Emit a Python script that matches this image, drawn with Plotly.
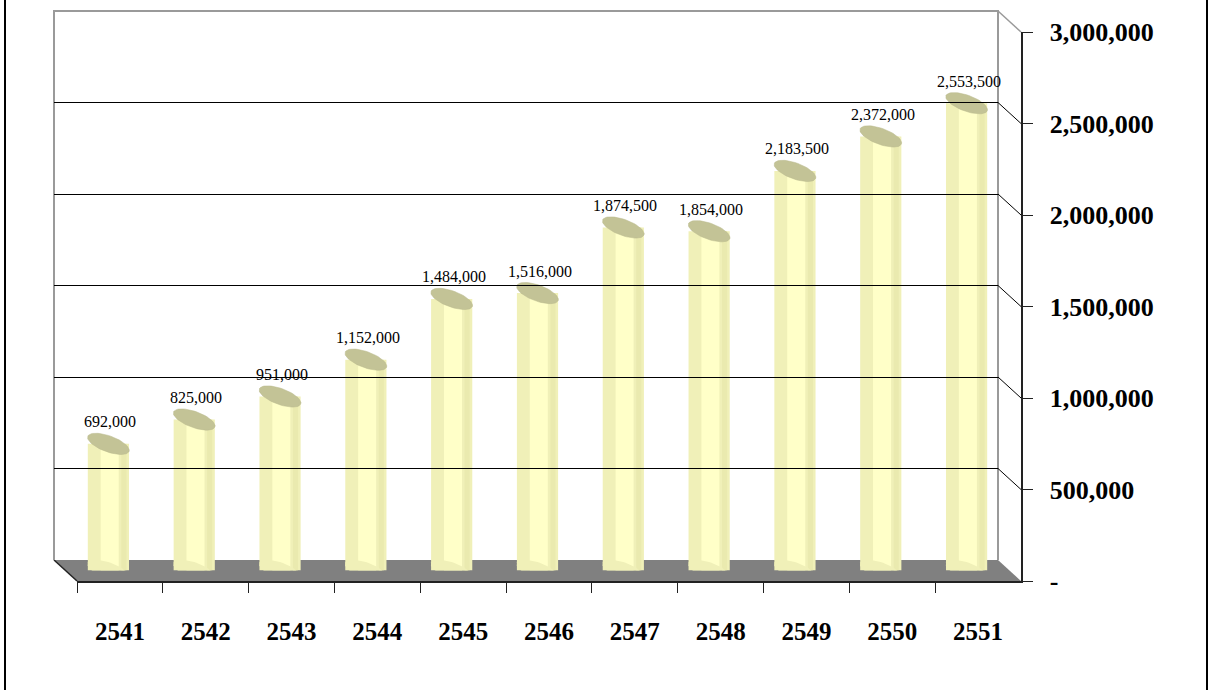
import numpy as np
import plotly.graph_objects as go

# ---- data ----
years = ["2541", "2542", "2543", "2544", "2545", "2546", "2547", "2548", "2549", "2550", "2551"]
values = [692000, 825000, 951000, 1152000, 1484000, 1516000, 1874500, 1854000, 2183500, 2372000, 2553500]
y_tickvals = [0, 500000, 1000000, 1500000, 2000000, 2500000, 3000000]
y_ticktext = ["-", "500,000", "1,000,000", "1,500,000", "2,000,000", "2,500,000", "3,000,000"]
YMAX = 3000000

W, H = 1209, 690
def px(x): return x / W
def py(y): return 1 - y / H

# layout geometry (pixels)
FX0, FX1, FYB, FYT = 77, 1021, 581, 32          # front plane
DX, DY = 23, 21                                  # depth offset
BX0, BX1, BYB, BYT = FX0 - DX, FX1 - DX, FYB - DY, FYT - DY  # back wall
MX0, MX1, MYB, MYT = FX0 - DX / 2, FX1 - DX / 2, FYB - DY / 2, FYT - DY / 2  # bar plane

n = len(years)
xs = np.arange(n)
unit_px = (FX1 - FX0) / n
val_per_px = YMAX / (FYB - FYT)

BAR_W = 0.48
EDGE = "#F0F0B8"
MID = "#FFFFC8"
RIGHT = "#EAEAAF"
TOP = "#C3C396"

def ellipse(cx, cy, a=22, b=8, theta=np.radians(20)):
    t = np.linspace(0, 2 * np.pi, 60)
    ex = a * np.cos(t) * np.cos(theta) - b * np.sin(t) * np.sin(theta)
    ey = a * np.cos(t) * np.sin(theta) + b * np.sin(t) * np.cos(theta)  # pixel, down positive
    return cx + ex / unit_px, cy - ey * val_per_px

fig = go.Figure()

# bottom caps of cylinders
for i, v in enumerate(values):
    ex, ey = ellipse(xs[i], 0)
    fig.add_trace(go.Scatter(x=ex, y=ey, mode="lines", fill="toself", fillcolor=EDGE,
                             line=dict(width=0), xaxis="x2", yaxis="y2", hoverinfo="skip", showlegend=False))

# cylinder bodies
fig.add_trace(go.Bar(x=xs, y=values, width=BAR_W, marker=dict(color=EDGE, line=dict(width=0)),
                     xaxis="x2", yaxis="y2", hoverinfo="skip", showlegend=False))
fig.add_trace(go.Bar(x=xs, y=values, width=0.21, offset=-BAR_W / 2 + 0.15,
                     marker=dict(color=MID, line=dict(width=0)),
                     xaxis="x2", yaxis="y2", hoverinfo="skip", showlegend=False))
fig.add_trace(go.Bar(x=xs, y=values, width=0.06, offset=BAR_W / 2 - 0.09,
                     marker=dict(color=RIGHT, line=dict(width=0)),
                     xaxis="x2", yaxis="y2", hoverinfo="skip", showlegend=False))

# top caps
for i, v in enumerate(values):
    ex, ey = ellipse(xs[i], v)
    fig.add_trace(go.Scatter(x=ex, y=ey, mode="lines", fill="toself", fillcolor=TOP,
                             line=dict(width=0.5, color="#B8B88C"), xaxis="x2", yaxis="y2",
                             hoverinfo="skip", showlegend=False))

# invisible trace for the front axes
fig.add_trace(go.Scatter(x=years, y=values, mode="markers", marker=dict(opacity=0),
                         xaxis="x", yaxis="y", hoverinfo="skip", showlegend=False))
# invisible trace for the back wall axes
fig.add_trace(go.Scatter(x=[0], y=[0], mode="markers", marker=dict(opacity=0),
                         xaxis="x3", yaxis="y3", hoverinfo="skip", showlegend=False))

shapes = []
# outer border: only the side edges are inside the picture
for bx in (5, 1207):
    shapes.append(dict(type="line", xref="paper", yref="paper", x0=px(bx), x1=px(bx), y0=0, y1=1,
                       line=dict(color="black", width=2), layer="below"))
# floor
floor = (f"M {px(BX0)},{py(BYB)} L {px(BX1)},{py(BYB)} L {px(FX1)},{py(FYB)} L {px(FX0)},{py(FYB)} Z")
shapes.append(dict(type="path", path=floor, xref="paper", yref="paper", fillcolor="#808080",
                   line=dict(width=0), layer="below"))
shapes.append(dict(type="line", xref="paper", yref="paper", x0=px(BX0), y0=py(BYB), x1=px(FX0), y1=py(FYB),
                   line=dict(color="#222222", width=1.5), layer="below"))
# back wall outline
wall = f"M {px(BX0)},{py(BYB)} L {px(BX0)},{py(BYT)} L {px(BX1)},{py(BYT)} L {px(BX1)},{py(BYB)}"
shapes.append(dict(type="path", path=wall, xref="paper", yref="paper", line=dict(color="#9A9A9A", width=2),
                   layer="below"))
# connectors from back wall gridlines to front ticks
for tv in y_tickvals[1:]:
    ob = (BYB - BYT) * tv / YMAX
    of = (FYB - FYT) * tv / YMAX
    col = "#9A9A9A" if tv == YMAX else "black"
    shapes.append(dict(type="line", xref="paper", yref="paper", x0=px(BX1), y0=py(BYB - ob),
                       x1=px(FX1), y1=py(FYB - of), line=dict(color=col, width=1.5 if tv == YMAX else 1),
                       layer="below"))

annotations = []
for i, v in enumerate(values):
    annotations.append(dict(x=xs[i], y=v, xref="x2", yref="y2", text=f"{v:,}", showarrow=False,
                            yshift=22, xshift=2,
                            font=dict(family="Liberation Serif", size=16, color="black")))

fig.update_layout(
    width=W, height=H,
    margin=dict(l=0, r=0, t=0, b=0, pad=0, autoexpand=False),
    paper_bgcolor="white", plot_bgcolor="rgba(0,0,0,0)",
    showlegend=False, barmode="overlay", hovermode=False,
    shapes=shapes, annotations=annotations,
    xaxis=dict(domain=[px(FX0), px(FX1)], type="category", categoryarray=years, range=[-0.5, n - 0.5],
               anchor="y", showgrid=False, zeroline=False, showline=True, linecolor="#222222", linewidth=2,
               ticks="outside", tickson="boundaries", ticklen=10, tickcolor="#222222", tickwidth=1,
               ticklabelstandoff=27, automargin=False,
               tickfont=dict(family="Liberation Serif", size=25, color="black", weight="bold")),
    yaxis=dict(domain=[py(FYB), py(FYT)], range=[0, YMAX], side="right", anchor="x",
               tickvals=y_tickvals, ticktext=y_ticktext, showgrid=False, zeroline=False,
               showline=True, linecolor="#222222", linewidth=1.5, automargin=False,
               ticks="outside", ticklen=10, tickcolor="#222222", ticklabelstandoff=12,
               tickfont=dict(family="Liberation Serif", size=26, color="black", weight="bold")),
    xaxis2=dict(domain=[px(MX0), px(MX1)], range=[-0.5, n - 0.5], anchor="y2", visible=False, automargin=False),
    yaxis2=dict(domain=[py(MYB), py(MYT)], range=[0, YMAX], anchor="x2", visible=False, automargin=False),
    xaxis3=dict(domain=[px(BX0), px(BX1)], range=[0, 1], anchor="y3", visible=False, automargin=False),
    yaxis3=dict(domain=[py(BYB), py(BYT)], range=[0, YMAX], anchor="x3", showticklabels=False,
                tickvals=y_tickvals[1:-1], showgrid=True, gridcolor="black", gridwidth=1, automargin=False,
                zeroline=False, showline=False, ticks=""),
)

fig.write_html("out.html", config={"displayModeBar": False, "staticPlot": True},
               post_script="document.body.style.margin='0';document.body.style.overflow='hidden';")
